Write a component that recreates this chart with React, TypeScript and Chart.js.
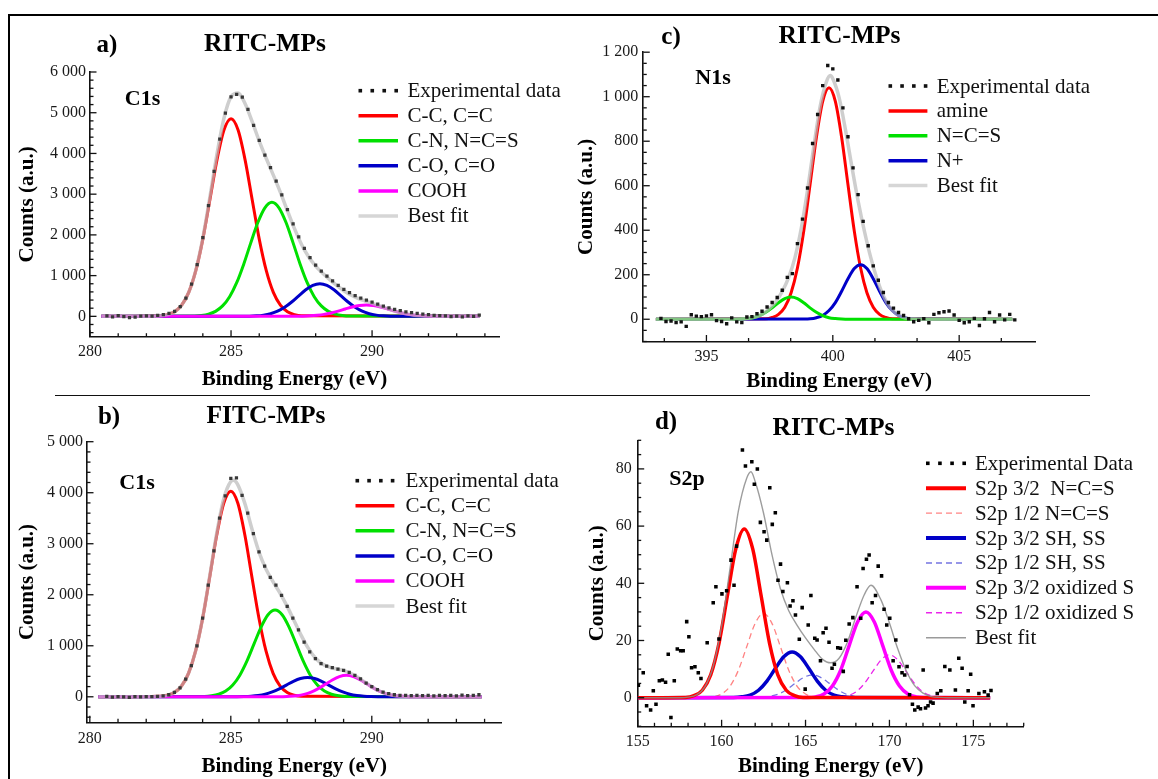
import React, { useEffect, useRef } from 'react';
import { Chart, registerables } from 'chart.js';

Chart.register(...registerables);

const W = 1158;
const H = 779;
const SERIF = '"Liberation Serif", "Times New Roman", serif';

// ---------------- Panel a : RITC-MPs C1s ----------------
const aExpX = [280.6, 280.8, 281.0, 281.2, 281.4, 281.6, 281.8, 282.0, 282.2, 282.4, 282.6, 282.8, 283.0, 283.2, 283.4, 283.6, 283.8, 284.0, 284.2, 284.4, 284.6, 284.8, 285.0, 285.2, 285.4, 285.6, 285.8, 286.0, 286.2, 286.4, 286.6, 286.8, 287.0, 287.2, 287.4, 287.6, 287.8, 288.0, 288.2, 288.4, 288.6, 288.8, 289.0, 289.2, 289.4, 289.6, 289.8, 290.0, 290.2, 290.4, 290.6, 290.8, 291.0, 291.2, 291.4, 291.6, 291.8, 292.0, 292.2, 292.4, 292.6, 292.8, 293.0, 293.2, 293.4, 293.6, 293.8];
const aExpY = [10, -15, 20, -10, -30, -20, 5, 10, 5, 25, 40, 70, 120, 240, 450, 790, 1270, 1930, 2720, 3560, 4350, 4990, 5390, 5450, 5380, 5080, 4690, 4320, 3960, 3650, 3320, 2980, 2620, 2270, 1950, 1670, 1440, 1260, 1110, 990, 870, 760, 660, 580, 510, 450, 400, 350, 300, 250, 210, 170, 140, 110, 90, 70, 55, 40, 25, 15, 10, -10, 5, -15, 10, 0, 30];
const aRedX = [280.4, 282.5, 282.75, 283, 283.25, 283.5, 283.75, 284, 284.25, 284.5, 284.75, 285, 285.25, 285.5, 285.75, 286, 286.25, 286.5, 286.75, 287, 287.25, 287.5, 293.8];
const aRedY = [0, 14, 42, 113, 274, 587, 1120, 1896, 2862, 3836, 4574, 4850, 4574, 3836, 2862, 1896, 1120, 587, 274, 113, 42, 14, 0];
const aGreenX = [280.4, 283.7, 283.95, 284.2, 284.45, 284.7, 284.95, 285.2, 285.45, 285.7, 285.95, 286.2, 286.45, 286.7, 286.95, 287.2, 287.45, 287.7, 287.95, 288.2, 288.45, 288.7, 288.95, 289.2, 293.8];
const aGreenY = [0, 8, 21, 54, 123, 256, 483, 826, 1282, 1804, 2303, 2666, 2800, 2666, 2303, 1804, 1282, 826, 483, 256, 123, 54, 21, 8, 0];
const aBlueX = [280.4, 285.65, 285.9, 286.15, 286.4, 286.65, 286.9, 287.15, 287.4, 287.65, 287.9, 288.15, 288.4, 288.65, 288.9, 289.15, 289.4, 289.65, 289.9, 290.15, 290.4, 290.65, 293.8];
const aBlueY = [0, 5, 12, 30, 65, 126, 222, 352, 504, 651, 760, 800, 760, 651, 504, 352, 222, 126, 65, 30, 12, 5, 0];
const aMagX = [280.4, 287.3, 287.55, 287.8, 288.05, 288.3, 288.55, 288.8, 289.05, 289.3, 289.55, 289.8, 290.05, 290.3, 290.55, 290.8, 291.05, 291.3, 291.55, 291.8, 292.05, 292.3, 293.8];
const aMagY = [0, 2, 5, 12, 26, 48, 83, 128, 180, 230, 267, 280, 267, 230, 180, 128, 83, 48, 26, 12, 5, 2, 0];
const aFitX = [280.4, 282.0, 282.25, 282.5, 282.75, 283.0, 283.25, 283.5, 283.75, 284.0, 284.25, 284.5, 284.75, 285.0, 285.25, 285.5, 285.75, 286.0, 286.25, 286.5, 286.75, 287.0, 287.25, 287.5, 287.75, 288.0, 288.25, 288.5, 288.75, 289.0, 289.25, 289.5, 289.75, 290.0, 290.25, 290.5, 290.75, 291.0, 291.25, 291.5, 291.75, 292.0, 292.25, 292.5, 293.8];
const aFitY = [0, 1, 4, 14, 42, 113, 274, 587, 1129, 1922, 2926, 3980, 4867, 5392, 5483, 5219, 4779, 4305, 3875, 3467, 3044, 2594, 2153, 1766, 1464, 1235, 1059, 903, 758, 629, 523, 440, 377, 319, 260, 200, 141, 91, 54, 29, 14, 6, 3, 0, 0];

// ---------------- Panel b : FITC-MPs C1s ----------------
const bExpX = aExpX;
const bExpY = [10, -5, 5, 0, -10, 5, 0, 5, 5, 10, 18, 40, 85, 175, 345, 610, 1000, 1540, 2190, 2860, 3500, 3940, 4280, 4290, 3950, 3600, 3200, 2840, 2560, 2340, 2190, 1990, 1770, 1540, 1310, 1070, 880, 750, 650, 600, 570, 540, 520, 480, 420, 350, 270, 200, 140, 90, 60, 40, 30, 30, 25, 30, 25, 30, 20, 30, 25, 30, 20, 35, 25, 30, 40];
const bRedX = [280.3, 282.5, 282.75, 283, 283.25, 283.5, 283.75, 284, 284.25, 284.5, 284.75, 285, 285.25, 285.5, 285.75, 286, 286.25, 286.5, 286.75, 287, 287.25, 287.5, 293.9];
const bRedY = [0, 10, 31, 85, 210, 460, 893, 1536, 2343, 3167, 3794, 4030, 3794, 3167, 2343, 1536, 893, 460, 210, 85, 31, 10, 0];
const bGreenX = [280.3, 284.07, 284.32, 284.57, 284.82, 285.07, 285.32, 285.57, 285.82, 286.07, 286.32, 286.57, 286.82, 287.07, 287.32, 287.57, 287.82, 288.07, 288.32, 288.57, 288.82, 289.07, 293.9];
const bGreenY = [0, 7, 19, 49, 112, 230, 424, 699, 1031, 1361, 1608, 1700, 1608, 1361, 1031, 699, 424, 230, 112, 49, 19, 7, 0];
const bBlueX = [280.3, 285.22, 285.47, 285.72, 285.97, 286.22, 286.47, 286.72, 286.97, 287.22, 287.47, 287.72, 287.97, 288.22, 288.47, 288.72, 288.97, 289.22, 289.47, 289.72, 289.97, 290.22, 293.9];
const bBlueY = [0, 1, 4, 11, 25, 51, 95, 156, 230, 304, 359, 380, 359, 304, 230, 156, 95, 51, 25, 11, 4, 1, 0];
const bMagX = [280.3, 286.6, 286.85, 287.1, 287.35, 287.6, 287.85, 288.1, 288.35, 288.6, 288.85, 289.1, 289.35, 289.6, 289.85, 290.1, 290.35, 290.6, 290.85, 291.1, 291.35, 291.6, 293.9];
const bMagY = [0, 1, 3, 9, 22, 48, 93, 160, 244, 330, 395, 420, 395, 330, 244, 160, 93, 48, 22, 9, 3, 1, 0];
const bFitX = [280.3, 282.0, 282.25, 282.5, 282.75, 283.0, 283.25, 283.5, 283.75, 284.0, 284.25, 284.5, 284.75, 285.0, 285.1, 285.25, 285.5, 285.75, 286.0, 286.25, 286.5, 286.75, 287.0, 287.25, 287.5, 287.75, 288.0, 288.25, 288.5, 288.75, 289.0, 289.25, 289.5, 289.75, 290.0, 290.25, 290.5, 290.75, 291.0, 291.25, 291.5, 292.0, 293.9];
const bFitY = [0, 1, 3, 10, 31, 85, 210, 460, 894, 1541, 2357, 3205, 3884, 4220, 4245, 4155, 3786, 3290, 2837, 2501, 2254, 2029, 1773, 1485, 1198, 948, 761, 643, 580, 546, 514, 461, 383, 289, 196, 119, 63, 30, 13, 5, 2, 0, 0];

// ---------------- Panel c : RITC-MPs N1s ----------------
const cExpX = [393.2, 393.4, 393.6, 393.8, 394.0, 394.2, 394.4, 394.6, 394.8, 395.0, 395.2, 395.4, 395.6, 395.8, 396.0, 396.2, 396.4, 396.6, 396.8, 397.0, 397.2, 397.4, 397.6, 397.8, 398.0, 398.2, 398.4, 398.6, 398.8, 399.0, 399.2, 399.4, 399.6, 399.8, 400.0, 400.2, 400.4, 400.6, 400.8, 401.0, 401.2, 401.4, 401.6, 401.8, 402.0, 402.2, 402.4, 402.6, 402.8, 403.0, 403.2, 403.4, 403.6, 403.8, 404.0, 404.2, 404.4, 404.6, 404.8, 405.0, 405.2, 405.4, 405.6, 405.8, 406.0, 406.2, 406.4, 406.6, 406.8, 407.0, 407.2];
const cExpY = [4, -10, -8, -15, -12, -32, 20, 14, 12, 15, 20, -6, -10, -20, 6, -12, -15, 10, 12, 25, 36, 55, 75, 98, 130, 188, 205, 340, 450, 590, 790, 920, 1050, 1140, 1125, 1075, 950, 820, 680, 560, 440, 330, 240, 175, 120, 75, 50, 30, 17, 2, -11, -5, 3, -16, 22, 29, 34, 37, 19, -5, -16, -11, 4, -28, 2, 30, -11, 19, -3, 22, -3];
const cRedX = [393.0, 397.35, 397.6, 397.85, 398.1, 398.35, 398.6, 398.85, 399.1, 399.35, 399.6, 399.85, 400.1, 400.35, 400.6, 400.85, 401.1, 401.35, 401.6, 401.85, 402.1, 402.35, 407.1];
const cRedY = [0, 2, 8, 22, 54, 119, 230, 396, 605, 817, 979, 1040, 979, 817, 605, 396, 230, 119, 54, 22, 8, 2, 0];
const cGreenX = [393.0, 396.1, 396.35, 396.6, 396.85, 397.1, 397.35, 397.6, 397.85, 398.1, 398.35, 398.6, 398.85, 399.1, 399.35, 399.6, 399.85, 400.1, 400.35, 400.6, 407.1];
const cGreenY = [0, 0, 1, 3, 7, 16, 31, 51, 74, 93, 100, 93, 74, 51, 31, 16, 7, 3, 1, 0, 0];
const cBlueX = [393.0, 398.85, 399.1, 399.35, 399.6, 399.85, 400.1, 400.35, 400.6, 400.85, 401.1, 401.35, 401.6, 401.85, 402.1, 402.35, 402.6, 402.85, 403.1, 403.35, 407.1];
const cBlueY = [0, 1, 2, 7, 17, 39, 75, 126, 182, 228, 245, 228, 182, 126, 75, 39, 17, 7, 2, 1, 0];
const cFitX = [393.0, 396.0, 396.25, 396.5, 396.75, 397.0, 397.25, 397.5, 397.75, 398.0, 398.25, 398.5, 398.75, 399.0, 399.25, 399.5, 399.75, 399.9, 400.0, 400.25, 400.5, 400.75, 401.0, 401.25, 401.5, 401.75, 402.0, 402.25, 402.5, 402.75, 403.0, 403.25, 403.5, 407.1];
const cFitY = [0, 0, 1, 2, 5, 12, 26, 48, 80, 125, 187, 276, 407, 580, 777, 957, 1068, 1095, 1081, 996, 852, 688, 532, 396, 278, 181, 106, 55, 25, 10, 3, 1, 0, 0];

// ---------------- Panel d : RITC-MPs S2p ----------------
const dExpX = [155.04, 155.33, 155.53, 155.77, 155.93, 156.09, 156.29, 156.47, 156.66, 156.82, 156.98, 157.18, 157.36, 157.56, 157.71, 157.92, 158.05, 158.21, 158.41, 158.61, 158.77, 159.14, 159.5, 159.66, 159.84, 160.02, 160.3, 160.56, 160.74, 160.89, 161.24, 161.42, 161.8, 161.95, 162.13, 162.31, 162.53, 162.69, 162.87, 163.02, 163.2, 163.36, 163.51, 163.65, 163.92, 164.08, 164.25, 164.4, 164.63, 164.8, 164.98, 165.16, 165.32, 165.55, 165.69, 165.89, 166.05, 166.22, 166.4, 166.58, 166.72, 166.92, 167.08, 167.25, 167.4, 167.6, 167.82, 168.07, 168.29, 168.43, 168.63, 168.79, 168.97, 169.17, 169.33, 169.53, 169.68, 169.84, 170.02, 170.22, 170.38, 170.57, 170.75, 170.91, 171.05, 171.2, 171.37, 171.51, 171.71, 171.85, 172.01, 172.15, 172.3, 172.45, 172.6, 172.85, 173.06, 173.3, 173.6, 173.93, 174.13, 174.33, 174.49, 174.69, 174.84, 174.98, 175.33, 175.66, 175.88, 176.05];
const dExpY = [4.4, 8.7, -2.8, -4.3, 2.4, -2.3, 5.9, 6.2, 5.4, 15.2, -6.9, 5.9, 17.0, 16.4, 16.4, 26.6, 21.3, 10.5, 10.8, 8.7, 6.7, 19.2, 33.2, 38.8, 20.5, 36.3, 37.4, 48.1, 39.3, 53.0, 86.6, 81.0, 82.5, 74.6, 80.0, 61.3, 58.0, 55.1, 73.4, 60.6, 64.7, 41.1, 46.7, 37.1, 40.2, 32.1, 33.9, 28.9, 20.4, 31.5, 3.0, 25.4, 35.7, 20.8, 20.2, 12.9, 22.7, 24.3, 19.4, 10.3, 11.7, 17.5, 17.3, 9.2, 20.1, 25.8, 28.0, 38.8, 27.8, 45.2, 48.4, 49.9, 33.2, 35.7, 46.0, 42.6, 30.9, 25.4, 27.8, 12.9, 20.2, 10.8, 8.7, 7.9, 10.9, 1.0, -2.3, -4.3, -3.3, -3.9, 9.7, -3.6, -2.8, -1.5, -1.9, 1.5, 2.4, 10.9, 9.7, 2.7, 13.8, 10.3, -1.5, 2.4, 8.2, -2.8, 1.5, 2.1, 0.9, 2.5];
const dRedX = [155, 157.85, 158.35, 158.85, 159.35, 159.85, 160.35, 160.85, 161.35, 161.85, 162.35, 162.85, 163.35, 163.85, 164.35, 164.85, 176];
const dRedY = [0, 0.1, 0.7, 2.6, 8.0, 19.2, 35.8, 52.1, 59, 52.1, 35.8, 19.2, 8.0, 2.6, 0.7, 0.1, 0];
const dRedHalfX = [159.0, 159.5, 160, 160.5, 161, 161.5, 162, 162.5, 163, 163.5, 164, 164.5, 165, 165.5, 166];
const dRedHalfY = [0.1, 0.3, 1.3, 4.0, 9.6, 17.9, 26.0, 29.5, 26.0, 17.9, 9.6, 4.0, 1.3, 0.3, 0.1];
const dBlueX = [155, 160.7, 161.2, 161.7, 162.2, 162.7, 163.2, 163.7, 164.2, 164.7, 165.2, 165.7, 166.2, 166.7, 167.2, 167.7, 176];
const dBlueY = [0, 0.1, 0.3, 0.9, 2.6, 5.8, 10.2, 14.3, 16, 14.3, 10.2, 5.8, 2.6, 0.9, 0.3, 0.1, 0];
const dBlueHalfX = [162.4, 162.9, 163.4, 163.9, 164.4, 164.9, 165.4, 165.9, 166.4, 166.9, 167.4, 167.9, 168.4];
const dBlueHalfY = [0.1, 0.5, 1.3, 2.9, 5.1, 7.1, 8, 7.1, 5.1, 2.9, 1.3, 0.5, 0.1];
const dMagX = [155, 165.1, 165.6, 166.1, 166.6, 167.1, 167.6, 168.1, 168.6, 169.1, 169.6, 170.1, 170.6, 171.1, 171.6, 172.1, 176];
const dMagY = [0, 0.1, 0.3, 1.3, 4.1, 9.7, 18.2, 26.5, 30, 26.5, 18.2, 9.7, 4.1, 1.3, 0.3, 0.1, 0];
const dMagHalfX = [166.5, 167.0, 167.5, 168.0, 168.5, 169.0, 169.5, 170.0, 170.5, 171.0, 171.5, 172.0, 172.5, 173.0, 173.5];
const dMagHalfY = [0.03, 0.2, 0.7, 2.0, 4.9, 9.1, 13.2, 15, 13.2, 9.1, 4.9, 2.0, 0.7, 0.2, 0.03];
const dFitX = [155, 157.5, 158, 158.5, 159, 159.5, 160, 160.5, 161, 161.5, 161.75, 162, 162.5, 163, 163.5, 164, 164.5, 165, 165.5, 166, 166.5, 167, 167.5, 168, 168.5, 168.9, 169.5, 170, 170.5, 171, 171.5, 172, 172.5, 173, 173.5, 176];
const dFitY = [0, 0, 0.2, 1.0, 3.8, 11.0, 25.0, 45.1, 65.3, 76.8, 79, 75.6, 64.5, 50.0, 38.2, 30.4, 25.3, 20.9, 17, 13.5, 12.2, 13.8, 19.5, 28.2, 36.0, 39.3, 34.1, 26.1, 17.0, 9.4, 4.2, 1.6, 0.4, 0.1, 0, 0];

// ---------------- tick labels ----------------
const abXTicks = [280, 285, 290];
const aYTicks = [0, 1000, 2000, 3000, 4000, 5000, 6000];
const bYTicks = [0, 1000, 2000, 3000, 4000, 5000];
const cXTicks = [395, 400, 405];
const cYTicks = [0, 200, 400, 600, 800, 1000, 1200];
const dXTicks = [155, 160, 165, 170, 175];
const dYTicks = [0, 20, 40, 60, 80];

// ---------------- legends ----------------
const cLegendC1s = ['Experimental data', 'C-C, C=C', 'C-N, N=C=S', 'C-O, C=O', 'COOH', 'Best fit'];
const cLegendN1s = ['Experimental data', 'amine', 'N=C=S', 'N+', 'Best fit'];
const cLegendS2p = ['Experimental Data', 'S2p 3/2  N=C=S', 'S2p 1/2 N=C=S', 'S2p 3/2 SH, SS', 'S2p 1/2 SH, SS', 'S2p 3/2 oxidized S', 'S2p 1/2 oxidized S', 'Best fit'];

const RED = '#ff0000';
const GREEN = '#00e000';
const BLUE = '#0000c8';
const MAG = '#ff00ff';
const FIT = 'rgba(185,185,185,0.7)';
const FIT_D = 'rgba(140,140,140,0.85)';

type Series = {
  xs: number[];
  ys: number[];
  kind: 'line' | 'dots';
  color: string;
  width?: number;
  dash?: number[];
  size?: number;
  order: number;
};

type LegendItem = { label: string; kind: 'line' | 'dots'; color: string; width?: number; dash?: number[] };

type Spec = {
  area: { left: number; right: number; top: number; bottom: number };
  x: [number, number];
  y: [number, number];
  xMajor: number[];
  xMinorStep: number;
  yMajor: number[];
  yMinorStep: number;
  yTitleX: number;
  xTitleY: number;
  yTickPad: number;
  xTickPad: number;
  series: Series[];
  legend: { items: LegendItem[]; x1: number; x2: number; tx: number; y0: number; dy: number };
};

const pts = (xs: number[], ys: number[]) => xs.map((x, i) => ({ x, y: ys[i] }));

const fmt = (v: number) => {
  const r = Math.round(v);
  const s = String(Math.abs(r));
  const t = s.length > 3 ? s.slice(0, s.length - 3) + ' ' + s.slice(s.length - 3) : s;
  return (r < 0 ? '-' : '') + t;
};

const c1sLegend = (): LegendItem[] => [
  { label: cLegendC1s[0], kind: 'dots', color: '#111' },
  { label: cLegendC1s[1], kind: 'line', color: RED, width: 3.5 },
  { label: cLegendC1s[2], kind: 'line', color: GREEN, width: 3.5 },
  { label: cLegendC1s[3], kind: 'line', color: BLUE, width: 3.5 },
  { label: cLegendC1s[4], kind: 'line', color: MAG, width: 3.5 },
  { label: cLegendC1s[5], kind: 'line', color: '#d6d6d6', width: 3.5 },
];

const specA: Spec = {
  area: { left: 90, right: 499, top: 72, bottom: 336.7 },
  x: [280, 294.5],
  y: [-500, 6000],
  xMajor: abXTicks,
  xMinorStep: 1,
  yMajor: aYTicks,
  yMinorStep: 200,
  yTitleX: 27.8,
  xTitleY: 379.5,
  yTickPad: 4,
  xTickPad: 5.4,
  series: [
    { xs: aRedX, ys: aRedY, kind: 'line', color: RED, width: 3, order: 5 },
    { xs: aGreenX, ys: aGreenY, kind: 'line', color: GREEN, width: 3, order: 4 },
    { xs: aBlueX, ys: aBlueY, kind: 'line', color: BLUE, width: 3, order: 3 },
    { xs: aMagX, ys: aMagY, kind: 'line', color: MAG, width: 3, order: 2 },
    { xs: aFitX, ys: aFitY, kind: 'line', color: FIT, width: 3.5, order: 1 },
    { xs: aExpX, ys: aExpY, kind: 'dots', color: '#383838', size: 2.3, order: 0 },
  ],
  legend: { items: c1sLegend(), x1: 358.5, x2: 398, tx: 407.4, y0: 90.7, dy: 25.05 },
};

const specB: Spec = {
  area: { left: 87, right: 501.5, top: 441.7, bottom: 722.3 },
  x: [279.9, 294.6],
  y: [-500, 5000],
  xMajor: abXTicks,
  xMinorStep: 1,
  yMajor: bYTicks,
  yMinorStep: 200,
  yTitleX: 27.5,
  xTitleY: 767,
  yTickPad: 4,
  xTickPad: 6.4,
  series: [
    { xs: bRedX, ys: bRedY, kind: 'line', color: RED, width: 3, order: 5 },
    { xs: bGreenX, ys: bGreenY, kind: 'line', color: GREEN, width: 3, order: 4 },
    { xs: bBlueX, ys: bBlueY, kind: 'line', color: BLUE, width: 3, order: 3 },
    { xs: bMagX, ys: bMagY, kind: 'line', color: MAG, width: 3, order: 2 },
    { xs: bFitX, ys: bFitY, kind: 'line', color: FIT, width: 3.5, order: 1 },
    { xs: bExpX, ys: bExpY, kind: 'dots', color: '#383838', size: 2.3, order: 0 },
  ],
  legend: { items: c1sLegend(), x1: 355.5, x2: 394.4, tx: 405.5, y0: 480.7, dy: 25.07 },
};

const specC: Spec = {
  area: { left: 643.25, right: 1035, top: 52.2, bottom: 341.5 },
  x: [392.5, 408],
  y: [-100, 1200],
  xMajor: cXTicks,
  xMinorStep: 5 / 3,
  yMajor: cYTicks,
  yMinorStep: 50,
  yTitleX: 586.7,
  xTitleY: 382,
  yTickPad: 5,
  xTickPad: 5.6,
  series: [
    { xs: cRedX, ys: cRedY, kind: 'line', color: RED, width: 3, order: 4 },
    { xs: cBlueX, ys: cBlueY, kind: 'line', color: BLUE, width: 3, order: 3 },
    { xs: cGreenX, ys: cGreenY, kind: 'line', color: GREEN, width: 3, order: 2 },
    { xs: cFitX, ys: cFitY, kind: 'line', color: FIT, width: 3.5, order: 1 },
    { xs: cExpX, ys: cExpY, kind: 'dots', color: '#111', size: 2.4, order: 0 },
  ],
  legend: {
    items: [
      { label: cLegendN1s[0], kind: 'dots', color: '#111' },
      { label: cLegendN1s[1], kind: 'line', color: RED, width: 3.5 },
      { label: cLegendN1s[2], kind: 'line', color: GREEN, width: 3.5 },
      { label: cLegendN1s[3], kind: 'line', color: BLUE, width: 3.5 },
      { label: cLegendN1s[4], kind: 'line', color: '#d6d6d6', width: 3.5 },
    ],
    x1: 888.5,
    x2: 927.4,
    tx: 936.7,
    y0: 86,
    dy: 24.9,
  },
};

const specD: Spec = {
  area: { left: 637.7, right: 1023.7, top: 440.3, bottom: 726.3 },
  x: [155, 178],
  y: [-10, 90],
  xMajor: dXTicks,
  xMinorStep: 1,
  yMajor: dYTicks,
  yMinorStep: 5,
  yTitleX: 597.8,
  xTitleY: 767,
  yTickPad: 6,
  xTickPad: 5.8,
  series: [
    { xs: dMagHalfX, ys: dMagHalfY, kind: 'line', color: 'rgba(230,0,230,0.85)', width: 1.3, dash: [6, 4], order: 7 },
    { xs: dBlueHalfX, ys: dBlueHalfY, kind: 'line', color: 'rgba(90,90,220,0.85)', width: 1.3, dash: [6, 4], order: 6 },
    { xs: dRedHalfX, ys: dRedHalfY, kind: 'line', color: 'rgba(255,90,90,0.75)', width: 1.3, dash: [6, 4], order: 5 },
    { xs: dBlueX, ys: dBlueY, kind: 'line', color: BLUE, width: 3.5, order: 4 },
    { xs: dMagX, ys: dMagY, kind: 'line', color: MAG, width: 3.5, order: 3 },
    { xs: dRedX, ys: dRedY, kind: 'line', color: RED, width: 3.5, order: 2 },
    { xs: dFitX, ys: dFitY, kind: 'line', color: FIT_D, width: 1.4, order: 1 },
    { xs: dExpX, ys: dExpY, kind: 'dots', color: '#000', size: 2.5, order: 0 },
  ],
  legend: {
    items: [
      { label: cLegendS2p[0], kind: 'dots', color: '#000' },
      { label: cLegendS2p[1], kind: 'line', color: RED, width: 4 },
      { label: cLegendS2p[2], kind: 'line', color: 'rgba(255,90,90,0.75)', width: 1.4, dash: [6, 4] },
      { label: cLegendS2p[3], kind: 'line', color: BLUE, width: 4 },
      { label: cLegendS2p[4], kind: 'line', color: 'rgba(90,90,220,0.85)', width: 1.4, dash: [6, 4] },
      { label: cLegendS2p[5], kind: 'line', color: MAG, width: 4 },
      { label: cLegendS2p[6], kind: 'line', color: 'rgba(230,0,230,0.85)', width: 1.4, dash: [6, 4] },
      { label: cLegendS2p[7], kind: 'line', color: '#9a9a9a', width: 1.5 },
    ],
    x1: 926,
    x2: 966,
    tx: 975,
    y0: 463.3,
    dy: 24.91,
  },
};

function minorValues(anchor: number, step: number, min: number, max: number, majors: number[]) {
  const out: number[] = [];
  const kMin = Math.ceil((min - anchor) / step - 1e-9);
  const kMax = Math.floor((max - anchor) / step + 1e-9);
  for (let k = kMin; k <= kMax; k++) {
    const v = anchor + k * step;
    if (!majors.some((m) => Math.abs(m - v) < step * 0.01)) out.push(v);
  }
  return out;
}

function Panel({ spec }: { spec: Spec }) {
  const ref = useRef<HTMLCanvasElement | null>(null);
  useEffect(() => {
    const s = spec;
    const canvas = ref.current;
    if (!canvas) return;
    const half = (21 * 1.2) / 2;
    const pL = s.yTitleX - half;
    const pB = Math.max(0, H - half - s.xTitleY);
    const yWidth = s.area.left - pL;
    const xHeight = H - pB - s.area.bottom;

    const datasets: any[] = s.series.map((se) =>
      se.kind === 'dots'
        ? {
            data: pts(se.xs, se.ys),
            showLine: false,
            pointStyle: 'rect',
            pointRadius: se.size,
            pointHoverRadius: se.size,
            pointBackgroundColor: se.color,
            backgroundColor: se.color,
            pointBorderWidth: 0,
            borderWidth: 0,
            order: se.order,
          }
        : {
            data: pts(se.xs, se.ys),
            showLine: true,
            pointRadius: 0,
            pointHoverRadius: 0,
            borderColor: se.color,
            backgroundColor: se.color,
            borderWidth: se.width,
            borderDash: se.dash || [],
            cubicInterpolationMode: 'monotone',
            fill: false,
            order: se.order,
          }
    );

    const xMinor = minorValues(s.xMajor[0], s.xMinorStep, s.x[0], s.x[1], s.xMajor);
    const yMinor = minorValues(s.yMajor[0], s.yMinorStep, s.y[0], s.y[1], s.yMajor);

    const decor = {
      id: 'xpsDecor',
      afterDraw(chart: any) {
        const ctx = chart.ctx as CanvasRenderingContext2D;
        const xs = chart.scales.x;
        const ys = chart.scales.y;
        const ca = chart.chartArea;
        ctx.save();
        ctx.strokeStyle = '#111';
        ctx.lineWidth = 1.3;
        const tick = (vals: number[], len: number, axis: 'x' | 'y') => {
          vals.forEach((v) => {
            ctx.beginPath();
            if (axis === 'x') {
              const px = xs.getPixelForValue(v);
              ctx.moveTo(px, ca.bottom);
              ctx.lineTo(px, ca.bottom - len);
            } else {
              const py = ys.getPixelForValue(v);
              ctx.moveTo(ca.left, py);
              ctx.lineTo(ca.left + len, py);
            }
            ctx.stroke();
          });
        };
        tick(s.xMajor, 6.5, 'x');
        tick(xMinor, 3.5, 'x');
        tick(s.yMajor, 6.5, 'y');
        tick(yMinor, 3.5, 'y');

        const lg = s.legend;
        ctx.font = `21px ${SERIF}`;
        ctx.textBaseline = 'middle';
        ctx.textAlign = 'left';
        lg.items.forEach((it, i) => {
          const y = lg.y0 + i * lg.dy;
          if (it.kind === 'dots') {
            ctx.fillStyle = it.color;
            const sz = 3.6;
            for (let k = 0; k < 4; k++) {
              const cx = lg.x1 + sz / 2 + (k * (lg.x2 - lg.x1 - sz)) / 3;
              ctx.fillRect(cx - sz / 2, y - sz / 2, sz, sz);
            }
          } else {
            ctx.strokeStyle = it.color;
            ctx.lineWidth = it.width || 3;
            ctx.setLineDash(it.dash || []);
            ctx.beginPath();
            ctx.moveTo(lg.x1, y);
            ctx.lineTo(lg.x2, y);
            ctx.stroke();
            ctx.setLineDash([]);
          }
          ctx.fillStyle = '#111';
          ctx.fillText(it.label, lg.tx, y + 1);
        });
        ctx.restore();
      },
    };

    const tickFont = { family: SERIF, size: 16 };
    const titleFont = { family: SERIF, size: 21, weight: 'bold' as const };

    const chart = new Chart(canvas, {
      type: 'scatter',
      data: { datasets },
      options: {
        animation: false,
        responsive: false,
        devicePixelRatio: 1,
        events: [],
        layout: {
          padding: { left: pL, right: W - s.area.right, top: s.area.top, bottom: pB },
        },
        plugins: {
          legend: { display: false },
          tooltip: { enabled: false },
          title: { display: false },
        },
        scales: {
          x: {
            type: 'linear',
            position: 'bottom',
            min: s.x[0],
            max: s.x[1],
            grid: { display: false, drawTicks: false, tickLength: 0 },
            border: { display: true, color: '#111', width: 1.6 },
            ticks: {
              font: tickFont,
              color: '#1a1a1a',
              padding: s.xTickPad,
              autoSkip: false,
              maxRotation: 0,
              minRotation: 0,
              callback: (v: any) => fmt(Number(v)),
            },
            title: {
              display: true,
              text: 'Binding Energy (eV)',
              font: titleFont,
              color: '#000',
              padding: { top: 0, bottom: 0 },
            },
            afterBuildTicks: (sc: any) => {
              sc.ticks = s.xMajor.map((v) => ({ value: v }));
            },
            afterFit: (sc: any) => {
              sc.height = xHeight;
            },
          },
          y: {
            type: 'linear',
            position: 'left',
            min: s.y[0],
            max: s.y[1],
            grid: { display: false, drawTicks: false, tickLength: 0 },
            border: { display: true, color: '#111', width: 1.6 },
            ticks: {
              font: tickFont,
              color: '#1a1a1a',
              padding: s.yTickPad,
              autoSkip: false,
              callback: (v: any) => fmt(Number(v)),
            },
            title: {
              display: true,
              text: 'Counts (a.u.)',
              font: titleFont,
              color: '#000',
              padding: { top: 0, bottom: 0 },
            },
            afterBuildTicks: (sc: any) => {
              sc.ticks = s.yMajor.map((v) => ({ value: v }));
            },
            afterFit: (sc: any) => {
              sc.width = yWidth;
            },
          },
        },
      } as any,
      plugins: [decor],
    });
    return () => chart.destroy();
  }, [spec]);
  return (
    <canvas
      ref={ref}
      width={W}
      height={H}
      style={{ position: 'absolute', left: 0, top: 0, width: W, height: H }}
    />
  );
}

const TEXTS = [
  { t: 'a)', x: 107, y: 43, s: 25 },
  { t: 'RITC-MPs', x: 265, y: 43, s: 25.5 },
  { t: 'C1s', x: 142.5, y: 98, s: 22 },
  { t: 'b)', x: 109, y: 415, s: 25 },
  { t: 'FITC-MPs', x: 266, y: 415, s: 25.5 },
  { t: 'C1s', x: 137, y: 482, s: 22 },
  { t: 'c)', x: 671, y: 35, s: 25 },
  { t: 'RITC-MPs', x: 839.5, y: 35, s: 25.5 },
  { t: 'N1s', x: 713, y: 77, s: 22 },
  { t: 'd)', x: 666, y: 420, s: 25 },
  { t: 'RITC-MPs', x: 833.5, y: 426.5, s: 25.5 },
  { t: 'S2p', x: 687, y: 478, s: 22 },
];

export default function App() {
  return (
    <div
      style={{
        position: 'absolute',
        left: 0,
        top: 0,
        width: W,
        height: H,
        background: '#fff',
        overflow: 'hidden',
      }}
    >
      <div style={{ position: 'absolute', left: 8, top: 14, width: W - 8, height: 2, background: '#000' }} />
      <div style={{ position: 'absolute', left: 8, top: 14, width: 2, height: H - 14, background: '#000' }} />
      <div style={{ position: 'absolute', left: 55, top: 394.5, width: 1035, height: 1.5, background: '#111' }} />
      <Panel spec={specA} />
      <Panel spec={specB} />
      <Panel spec={specC} />
      <Panel spec={specD} />
      {TEXTS.map((tx, i) => (
        <div
          key={i}
          style={{
            position: 'absolute',
            left: tx.x,
            top: tx.y,
            transform: 'translate(-50%, -50%)',
            fontFamily: SERIF,
            fontWeight: 'bold',
            fontSize: tx.s,
            lineHeight: 1,
            whiteSpace: 'nowrap',
            color: '#000',
          }}
        >
          {tx.t}
        </div>
      ))}
    </div>
  );
}
